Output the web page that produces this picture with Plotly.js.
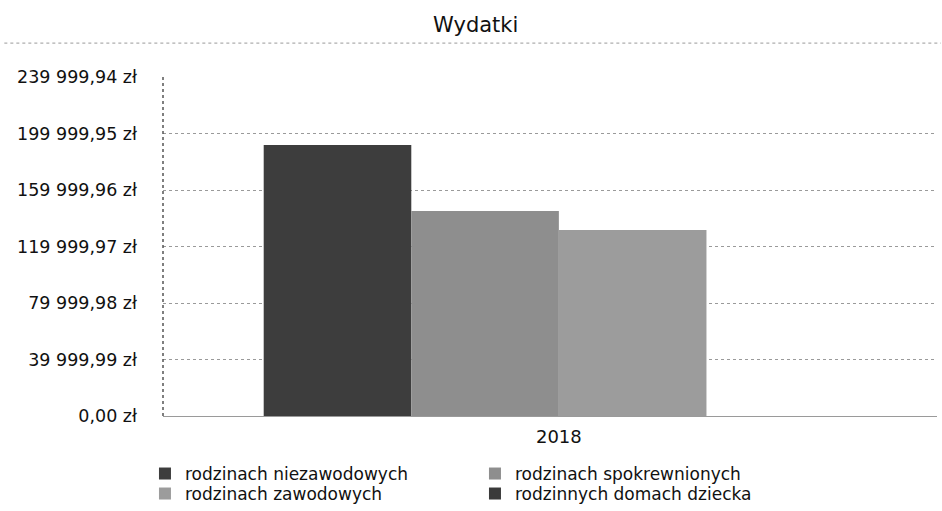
<!DOCTYPE html>
<html>
<head>
<meta charset="utf-8">
<script src="https://cdn.plot.ly/plotly-3.0.1.min.js"></script>
<style>html,body{margin:0;padding:0;background:#fff;}#chart{width:942px;height:511px;}</style>
</head>
<body>
<div id="chart"></div>
<script>
const categories = ["2018"];
const seriesNames = ["rodzinach niezawodowych", "rodzinach spokrewnionych", "rodzinach zawodowych", "rodzinnych domach dziecka"];
const seriesValues = [[191900], [145100], [131700], [0]];
const seriesColors = ["#3d3d3d", "#8e8e8e", "#9c9c9c", "#3a3a3a"];
const legendRows = ["legend", "legend", "legend2", "legend2"];
const tickValues = [0, 39999.99, 79999.98, 119999.97, 159999.96, 199999.95, 239999.94];
const tickLabels = ["0,00 zł", "39 999,99 zł", "79 999,98 zł", "119 999,97 zł", "159 999,96 zł", "199 999,95 zł", "239 999,94 zł"];

const font = "DejaVu Sans, Liberation Sans, sans-serif";
const traces = seriesNames.map((n, i) => ({
  type: "bar",
  name: n,
  x: categories,
  y: seriesValues[i],
  legend: legendRows[i],
  marker: {color: seriesColors[i], line: {width: 0}},
  hoverinfo: "skip"
}));

const legendBase = {orientation: "h", x: -0.0233, xanchor: "left", yanchor: "middle",
  entrywidth: 285, entrywidthmode: "pixels", traceorder: "normal",
  font: {family: font, size: 17, color: "#111"}, itemwidth: 30, tracegroupgap: 0,
  bgcolor: "rgba(0,0,0,0)"};

const layout = {
  width: 942, height: 511,
  margin: {l: 163, r: 5, t: 77, b: 95, autoexpand: false},
  paper_bgcolor: "#fff", plot_bgcolor: "#fff",
  font: {family: font, color: "#111", size: 16},
  title: {text: "Wydatki", x: 0.505, xanchor: "center", y: 0.951, yanchor: "middle", font: {family: font, size: 21, color: "#111"}},
  barmode: "group",
  bargap: 0.235,
  bargroupgap: 0,
  showlegend: true,
  legend: Object.assign({}, legendBase, {y: -0.171}),
  legend2: Object.assign({}, legendBase, {y: -0.230}),
  xaxis: {type: "category", range: [-0.513, 0.49], showgrid: false, showline: false, zeroline: false, ticks: "",
          tickfont: {family: font, size: 18, color: "#111"}, ticklabelstandoff: 8},
  yaxis: {range: [0, 239999.94], tickmode: "array", tickvals: tickValues, ticktext: tickLabels,
          showgrid: true, gridcolor: "#9a9a9a", griddash: "dot", gridwidth: 1,
          zeroline: true, zerolinecolor: "#9a9a9a", zerolinewidth: 1,
          showline: false, ticks: "",
          tickfont: {family: font, size: 17.5, color: "#111"}, ticklabelstandoff: 25},
  shapes: [
    {type: "line", xref: "paper", yref: "paper", x0: -0.205, x1: 1.005, y0: 1.10, y1: 1.10,
     line: {color: "#999", width: 1, dash: "dot"}},
    {type: "line", xref: "paper", yref: "paper", x0: 0, x1: 0, y0: 0, y1: 1,
     line: {color: "#555", width: 1.5, dash: "dot"}}
  ]
};

Plotly.newPlot("chart", traces, layout, {displayModeBar: false, staticPlot: true});
</script>
</body>
</html>
